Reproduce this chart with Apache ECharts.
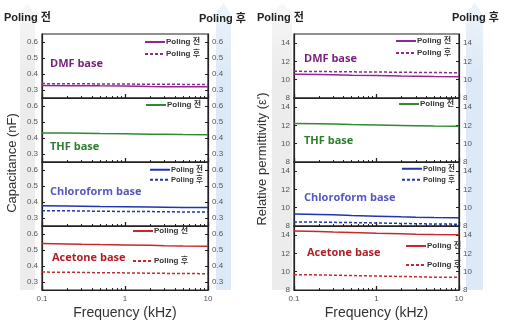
<!DOCTYPE html>
<html>
<head>
<meta charset="utf-8">
<script src="https://cdn.jsdelivr.net/npm/echarts@6/dist/echarts.min.js"></script>
<style>
html,body{margin:0;padding:0;background:#fff;}
#chart{width:506px;height:327px;}
</style>
</head>
<body>
<div id="chart"></div>
<script>
// Frequency sweep points (kHz)
const freq = [0.1, 0.2, 0.3, 0.5, 1, 2, 3, 5, 10];

// Capacitance (nF)
const capDmfBefore = [0.328, 0.327, 0.327, 0.326, 0.325, 0.322, 0.321, 0.320, 0.320];
const capDmfAfter  = [0.340, 0.339, 0.339, 0.338, 0.337, 0.336, 0.336, 0.335, 0.335];
const capThfBefore = [0.432, 0.431, 0.430, 0.428, 0.426, 0.424, 0.423, 0.422, 0.421];
const capChlBefore = [0.376, 0.375, 0.374, 0.372, 0.370, 0.368, 0.367, 0.366, 0.365];
const capChlAfter  = [0.346, 0.345, 0.344, 0.342, 0.341, 0.340, 0.339, 0.338, 0.337];
const capAceBefore = [0.540, 0.538, 0.536, 0.534, 0.532, 0.529, 0.527, 0.525, 0.524];
const capAceAfter  = [0.362, 0.361, 0.360, 0.358, 0.357, 0.355, 0.354, 0.353, 0.352];

// Relative permittivity (ε')
const epsDmfBefore = [10.60, 10.58, 10.55, 10.50, 10.45, 10.40, 10.38, 10.35, 10.33];
const epsDmfAfter  = [10.92, 10.90, 10.88, 10.86, 10.84, 10.82, 10.80, 10.78, 10.77];
const epsThfBefore = [12.20, 12.18, 12.15, 12.10, 12.05, 12.00, 11.97, 11.93, 11.90];
const epsChlBefore = [9.30, 9.27, 9.22, 9.15, 9.08, 9.00, 8.96, 8.92, 8.90];
const epsChlAfter  = [8.45, 8.43, 8.40, 8.37, 8.33, 8.28, 8.25, 8.22, 8.20];
const epsAceBefore = [14.45, 14.40, 14.35, 14.30, 14.22, 14.15, 14.10, 14.06, 14.03];
const epsAceAfter  = [9.68, 9.65, 9.62, 9.58, 9.53, 9.48, 9.45, 9.40, 9.38];

// Tick labels
const capTicks = [0.3, 0.4, 0.5, 0.6];
const epsTicks = [8, 10, 12, 14];
const minorFreqTicks = [0.2, 0.3, 0.4, 0.5, 0.6, 0.7, 0.8, 0.9, 2, 3, 4, 5, 6, 7, 8, 9];

const solvents = ['DMF base', 'THF base', 'Chloroform base', 'Acetone base'];
const labelBefore = 'Poling 전';
const labelAfter = 'Poling 후';
const xTitle = 'Frequency (kHz)';
const yTitles = ['Capacitance (nF)', "Relative permittivity (ε')"];

const FONT = '"Liberation Sans", Arial, "Noto Sans CJK KR", sans-serif';
const lineColors = ['#8e2a8e', '#2e8b2e', '#2233b0', '#c8282c'];
const textColors = ['#7a1e7e', '#2e7d2e', '#5656c4', '#b31e26'];

const panels = [
  {
    left: 42, width: 166, min: 0.25, max: 0.65, ticks: capTicks,
    before: [capDmfBefore, capThfBefore, capChlBefore, capAceBefore],
    after: [capDmfAfter, null, capChlAfter, capAceAfter],
    legendX: [144, 145, 149, 132],
    legendY: [[42, 54], [105, null], [170, 180], [231, 261]],
    labelPos: [[50, 64], [50, 147], [50, 192], [52, 258]]
  },
  {
    left: 294, width: 165, min: 8, max: 15, ticks: epsTicks,
    before: [epsDmfBefore, epsThfBefore, epsChlBefore, epsAceBefore],
    after: [epsDmfAfter, null, epsChlAfter, epsAceAfter],
    legendX: [395, 398, 401, 405],
    legendY: [[41, 53], [104, null], [169, 180], [246, 265]],
    labelPos: [[304, 59], [304, 141], [304, 198], [307, 253]]
  }
];

const grid = [], xAxis = [], yAxis = [], series = [], legend = [], graphic = [];
const ROW_TOP = 34, ROW_H = 64;

// Background arrows behind the y-axis label columns
function arrow(x0, x1, color) {
  const xc = (x0 + x1) / 2;
  return {
    type: 'polygon', z: -10, silent: true,
    shape: { points: [[x0, 14], [xc, 3], [x1, 14], [x1, 290], [x0, 290]] },
    style: {
      fill: { type: 'linear', x: 0, y: 0, x2: 0, y2: 1,
        colorStops: [{ offset: 0, color: color[0] }, { offset: 0.25, color: color[1] }, { offset: 1, color: color[1] }] }
    }
  };
}
graphic.push(arrow(20, 35, ['#f7f7f7', '#ececec']));
graphic.push(arrow(216, 231, ['#edf4fb', '#dce9f6']));
graphic.push(arrow(272, 292, ['#f7f7f7', '#ececec']));
graphic.push(arrow(466, 483, ['#edf4fb', '#dce9f6']));

function topText(x, y, t) {
  graphic.push({ type: 'text', x: x, y: y, z: 10, silent: true,
    style: { text: t, font: 'bold 11px ' + FONT, fill: '#222', textVerticalAlign: 'middle' } });
}
topText(4, 18, labelBefore);
topText(199, 19, labelAfter);
topText(257, 18, labelBefore);
topText(452, 18, labelAfter);

function legendFor(name, x, y, text, small) {
  return {
    data: [name], left: x, top: y - 4, padding: 0,
    itemWidth: 20, itemHeight: 8, itemGap: 2, selectedMode: false,
    itemStyle: { opacity: 0 },
    formatter: () => text,
    textStyle: { fontSize: small ? 7.5 : 8, fontWeight: 'bold', color: '#333', fontFamily: FONT, padding: [0, 0, 0, -4] }
  };
}

panels.forEach((p, pi) => {
  for (let r = 0; r < 4; r++) {
    const gi = grid.length;
    grid.push({ left: p.left, width: p.width, top: ROW_TOP + ROW_H * r, height: ROW_H,
      show: true, borderColor: '#222', borderWidth: 1.2, backgroundColor: 'transparent' });

    const last = r === 3;
    // main frequency axis (decades)
    xAxis.push({
      type: 'log', logBase: 10, gridIndex: gi, min: 0.1, max: 10, position: 'bottom',
      axisLine: { show: true, lineStyle: { color: '#222', width: 1.2 } },
      axisTick: { show: true, inside: true, length: 4, lineStyle: { color: '#222', width: 1.3 } },
      axisLabel: { show: last, color: '#555', fontSize: 8, fontFamily: FONT, margin: 5,
        formatter: v => String(+v.toPrecision(3)) },
      splitLine: { show: false }
    });
    // minor frequency ticks
    xAxis.push({
      type: 'log', logBase: 10, gridIndex: gi, min: 0.1, max: 10, position: 'bottom', offset: 0,
      axisLine: { show: false },
      axisTick: { show: true, inside: true, length: 2, customValues: minorFreqTicks,
        lineStyle: { color: '#222', width: 1 } },
      axisLabel: { show: false }, splitLine: { show: false }
    });
    const yCommon = {
      type: 'value', gridIndex: gi, min: p.min, max: p.max,
      axisLine: { show: true, lineStyle: { color: '#222', width: 1.2 } },
      axisTick: { show: true, inside: true, length: 3, customValues: p.ticks, lineStyle: { color: '#222' } },
      axisLabel: { color: '#555', fontSize: 8, fontFamily: FONT, margin: 4, customValues: p.ticks },
      splitLine: { show: false }
    };
    const yi = yAxis.length;
    yAxis.push(Object.assign({}, yCommon, { position: 'left' }));
    yAxis.push(Object.assign({}, yCommon, { position: 'right' }));

    const xi = gi * 2;
    const col = lineColors[r];
    const nameB = pi + '-' + r + '-b', nameA = pi + '-' + r + '-a';
    series.push({
      name: nameB, type: 'line', xAxisIndex: xi, yAxisIndex: yi, showSymbol: false, symbol: 'none',
      data: freq.map((f, i) => [f, p.before[r][i]]),
      lineStyle: { color: col, width: 1.5 }, itemStyle: { color: col }, silent: true, animation: false
    });
    legend.push(legendFor(nameB, p.legendX[r], p.legendY[r][0], labelBefore, r === 2));
    if (p.after[r]) {
      series.push({
        name: nameA, type: 'line', xAxisIndex: xi, yAxisIndex: yi, showSymbol: false, symbol: 'none',
        data: freq.map((f, i) => [f, p.after[r][i]]),
        lineStyle: { color: col, width: 1.5, type: [3, 2] }, itemStyle: { color: col }, silent: true, animation: false
      });
      legend.push(legendFor(nameA, p.legendX[r], p.legendY[r][1], labelAfter, r === 2));
    }

    graphic.push({ type: 'text', x: p.labelPos[r][0], y: p.labelPos[r][1], z: 10, silent: true,
      style: { text: solvents[r], font: 'bold 11px "Open Sans", "Noto Sans", sans-serif', fill: textColors[r], textVerticalAlign: 'middle' } });
  }

  // axis titles
  graphic.push({ type: 'text', x: p.left + p.width / 2, y: 313, silent: true,
    style: { text: xTitle, font: '14px ' + FONT, fill: '#333', textAlign: 'center', textVerticalAlign: 'middle' } });
  graphic.push({ type: 'text', x: pi === 0 ? 12 : 262, y: pi === 0 ? 163 : 159, rotation: Math.PI / 2, silent: true,
    style: { text: yTitles[pi], font: '13px ' + FONT, fill: '#333', textAlign: 'center', textVerticalAlign: 'middle' } });
});

const chart = echarts.init(document.getElementById('chart'), null, { renderer: 'canvas' });
chart.setOption({
  animation: false,
  backgroundColor: '#fff',
  grid, xAxis, yAxis, series, legend, graphic
});
</script>
</body>
</html>
